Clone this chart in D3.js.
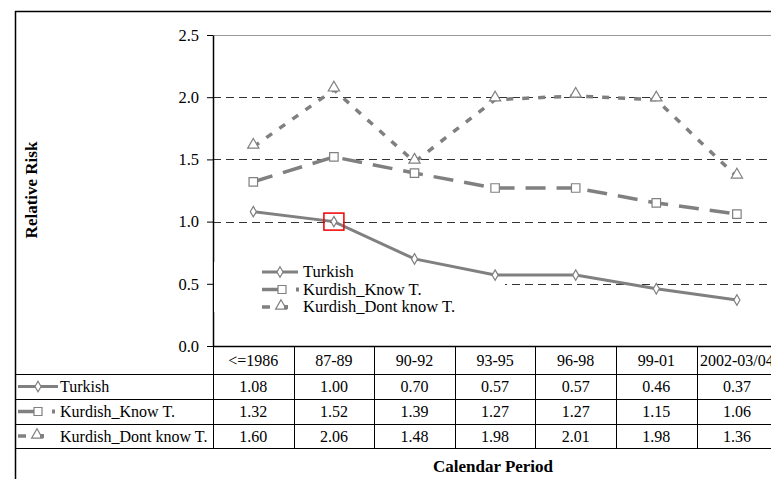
<!DOCTYPE html>
<html>
<head>
<meta charset="utf-8">
<script src="https://cdn.jsdelivr.net/npm/d3@7"></script>
<style>
  html, body { margin: 0; padding: 0; background: #fff; }
  svg { display: block; }
</style>
</head>
<body>
<svg id="chart" width="771" height="479"></svg>
<script>
// Calendar periods and relative risk by group
const periods = ["<=1986", "87-89", "90-92", "93-95", "96-98", "99-01", "2002-03/04"];
const turkish = [1.08, 1.00, 0.70, 0.57, 0.57, 0.46, 0.37];
const kurdishKnow = [1.32, 1.52, 1.39, 1.27, 1.27, 1.15, 1.06];
const kurdishDont = [1.60, 2.06, 1.48, 1.98, 2.01, 1.98, 1.36];
const seriesNames = ["Turkish", "Kurdish_Know T.", "Kurdish_Dont know T."];
const yTicks = [0.0, 0.5, 1.0, 1.5, 2.0, 2.5];

const series = [
  { name: seriesNames[0], values: turkish, dash: null, marker: "diamond", width: 3 },
  { name: seriesNames[1], values: kurdishKnow, dash: "20,11", marker: "square", width: 3.5 },
  { name: seriesNames[2], values: kurdishDont, dash: "7,9", marker: "triangle", width: 3.5 }
];

const FONT = "'Times New Roman', Tinos, 'Liberation Serif', 'DejaVu Serif', serif";
const svg = d3.select("#chart");
const grey = "#808080";

const plotLeft = 213, colW = 80.6;
const x = d3.scaleBand().domain(periods).range([plotLeft, plotLeft + colW * periods.length]);
const y = d3.scaleLinear().domain([0, 2.5]).range([346, 35]);

// Outer frame
svg.append("line").attr("x1", 15).attr("x2", 771).attr("y1", 11.5).attr("y2", 11.5).attr("stroke", "#000").attr("stroke-width", 1.5);
svg.append("line").attr("x1", 15.5).attr("x2", 15.5).attr("y1", 11).attr("y2", 479).attr("stroke", "#000").attr("stroke-width", 1.5);

// Horizontal gridlines
yTicks.filter(v => v > 0).forEach(v => {
  svg.append("line")
    .attr("x1", plotLeft).attr("x2", 771)
    .attr("y1", Math.round(y(v)) + 0.5).attr("y2", Math.round(y(v)) + 0.5)
    .attr("stroke", v === 2.5 ? "#999" : "#333")
    .attr("stroke-width", 1)
    .attr("stroke-dasharray", v === 2.5 ? null : "8,5");
});

// Y axis
const yAxis = d3.axisLeft(y).tickValues(yTicks).tickFormat(d3.format(".1f")).tickSize(6).tickSizeOuter(0);
const yg = svg.append("g").attr("transform", `translate(${plotLeft},0)`).call(yAxis);
yg.attr("font-family", null);
yg.select(".domain").attr("stroke", "#000").attr("stroke-width", 1.5);
yg.selectAll(".tick line").attr("stroke", "#000");
yg.selectAll(".tick text").attr("font-size", 16.5).style("font-family", FONT).attr("fill", "#000").attr("x", -14);

// Legend background inside plot
svg.append("rect").attr("x", plotLeft + 1).attr("y", 262).attr("width", 505 - plotLeft - 1).attr("height", 50).attr("fill", "#fff");

// Marker shapes
const symbolFor = {
  diamond: d3.symbol().type(d3.symbolDiamond).size(32),
  square: d3.symbol().type(d3.symbolSquare).size(72),
  triangle: d3.symbol().type(d3.symbolTriangle).size(55)
};

// Series lines and markers
const line = d3.line().x((d, i) => x(periods[i]) + x.bandwidth() / 2).y(d => y(d));
series.forEach(s => {
  svg.append("path").datum(s.values)
    .attr("d", line)
    .attr("fill", "none")
    .attr("stroke", grey)
    .attr("stroke-width", s.width)
    .attr("stroke-dasharray", s.dash);
  svg.selectAll(null).data(s.values).enter().append("path")
    .attr("d", symbolFor[s.marker])
    .attr("transform", (d, i) => `translate(${x(periods[i]) + x.bandwidth() / 2},${y(d) + (s.marker === "triangle" ? -2 : 0)})`)
    .attr("fill", "#fff")
    .attr("stroke", grey)
    .attr("stroke-width", 1.2);
});

// Highlight box on the Turkish 87-89 point
svg.append("rect")
  .attr("x", x(periods[1]) + x.bandwidth() / 2 - 10)
  .attr("y", y(turkish[1]) - 8.5)
  .attr("width", 20).attr("height", 17)
  .attr("fill", "none").attr("stroke", "#e00").attr("stroke-width", 1.5);

// Legend key drawing
function drawKey(g, s, x0, yc, compact) {
  if (s.marker === "diamond") {
    g.append("line").attr("x1", x0).attr("x2", x0 + (compact ? 40 : 36)).attr("y1", yc).attr("y2", yc).attr("stroke", grey).attr("stroke-width", 3);
    g.append("path").attr("d", symbolFor.diamond).attr("transform", `translate(${x0 + (compact ? 20 : 18)},${yc})`).attr("fill", "#fff").attr("stroke", grey).attr("stroke-width", 1.2);
  } else if (s.marker === "square") {
    g.append("line").attr("x1", x0).attr("x2", x0 + 16).attr("y1", yc).attr("y2", yc).attr("stroke", grey).attr("stroke-width", 3.5);
    g.append("path").attr("d", d3.symbol().type(d3.symbolSquare).size(64)).attr("transform", `translate(${x0 + 20},${yc})`).attr("fill", "#fff").attr("stroke", grey).attr("stroke-width", 1.2);
    g.append("rect").attr("x", x0 + 34).attr("y", yc - 2).attr("width", 3).attr("height", 4).attr("fill", grey);
  } else {
    g.append("line").attr("x1", x0).attr("x2", x0 + 8).attr("y1", yc).attr("y2", yc).attr("stroke", grey).attr("stroke-width", 3.5);
    g.append("path").attr("d", d3.symbol().type(d3.symbolTriangle).size(50)).attr("transform", `translate(${x0 + 19},${yc - 1})`).attr("fill", "#fff").attr("stroke", grey).attr("stroke-width", 1.2);
    g.append("rect").attr("x", x0 + 22).attr("y", yc - 2).attr("width", 4).attr("height", 4).attr("fill", grey);
  }
}

function addText(g, xx, yy, str, opts = {}) {
  return g.append("text").attr("x", xx).attr("y", yy)
    .attr("text-anchor", opts.anchor || "start")
    .attr("font-size", opts.size || 16)
    .attr("font-weight", opts.weight || "normal")
    .style("font-family", FONT)
    .attr("fill", "#000").text(str);
}

// In-plot legend
const legend = svg.append("g");
series.forEach((s, i) => {
  const yc = 272 + i * 17.5;
  drawKey(legend, s, 262, yc, false);
  addText(legend, 303, yc + 5, s.name, { size: 16.5 });
});

// Data table under the axis
const rowTops = [346, 374, 399, 424, 448];
const table = svg.append("g");
periods.forEach(p => addText(table, x(p) + x.bandwidth() / 2, 366, p, { anchor: "middle" }));
series.forEach((s, r) => {
  const yc = (rowTops[r + 1] + rowTops[r + 2]) / 2;
  drawKey(table, s, 18, yc, true);
  addText(table, 60, yc + 5.5, s.name);
  s.values.forEach((v, i) => addText(table, x(periods[i]) + x.bandwidth() / 2, yc + 5.5, d3.format(".2f")(v), { anchor: "middle" }));
});
table.append("line").attr("x1", plotLeft).attr("x2", 771).attr("y1", 346.5).attr("y2", 346.5).attr("stroke", "#000").attr("stroke-width", 1.5);
rowTops.slice(1).forEach(t => {
  table.append("line").attr("x1", 15).attr("x2", 771).attr("y1", t + 0.5).attr("y2", t + 0.5).attr("stroke", "#000").attr("stroke-width", 1);
});
periods.forEach(p => {
  table.append("line").attr("x1", Math.round(x(p)) + 0.5).attr("x2", Math.round(x(p)) + 0.5)
    .attr("y1", 346).attr("y2", 448).attr("stroke", "#000").attr("stroke-width", 1);
});

// Axis titles
addText(svg, 0, 0, "Relative Risk", { anchor: "middle", weight: "bold", size: 17 })
  .attr("x", null).attr("y", null).attr("transform", "translate(37,190) rotate(-90)");
addText(svg, 493, 472, "Calendar Period", { anchor: "middle", weight: "bold", size: 17 });
</script>
</body>
</html>
